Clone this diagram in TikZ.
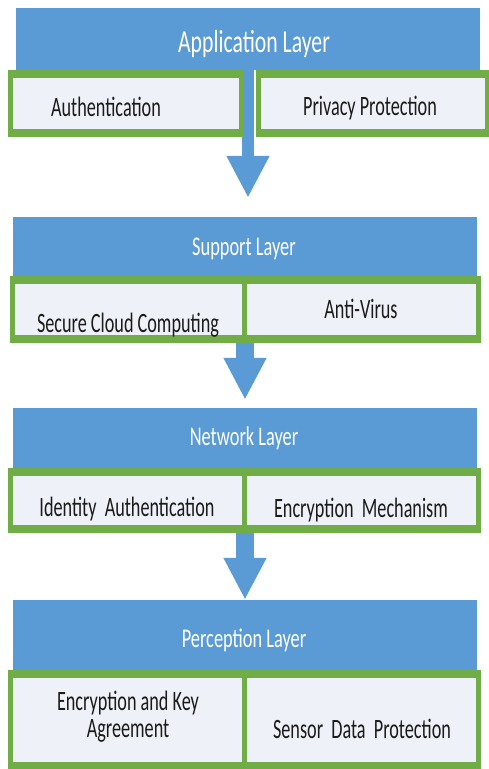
\documentclass[tikz,border=0pt]{standalone}
\usepackage{fontspec}
\setmainfont{Carlito}
\newfontfamily\layerfont{Carlito}[FakeStretch=0.68]
\newfontfamily\itemfont{Carlito}[FakeStretch=0.65]
\usetikzlibrary{arrows.meta}
\definecolor{lblue}{HTML}{5B9BD5}
\definecolor{lgreen}{HTML}{70AD47}
\definecolor{lpale}{HTML}{EEF1F8}
\definecolor{ink}{HTML}{1A1A1A}
\tikzset{
  hdr/.style={fill=lblue,inner sep=0pt,minimum width=464pt},
  cell/.style={fill=lgreen,inner sep=0pt,
    path picture={\fill[lpale] ([shift={(5pt,-8pt)}]path picture bounding box.north west)
      rectangle ([shift={(-5pt,8pt)}]path picture bounding box.south east);}},
  htxt/.style={anchor=base,text=white,font=\layerfont\fontsize{27}{29}\selectfont},
  itxt/.style={anchor=base,text=ink,align=center,font=\itemfont\fontsize{28}{27}\selectfont},
  flow/.style={draw=lblue,line width=18pt,-{Triangle[length=42pt,width=40pt]}},
}
\begin{document}
\begin{tikzpicture}[x=1pt,y=-1pt]
\path[use as bounding box,fill=white] (0,0) rectangle (489,769);
% layer boxes
\node[hdr,minimum height=62pt] (app) at (248,39){};
\node[hdr,minimum height=60pt] (sup) at (245,247){};
\node[hdr,minimum height=60pt] (net) at (245,438){};
\node[hdr,minimum height=70pt] (per) at (245,635){};
% arrows between the layers
\draw[flow,line width=12pt,shorten >=19pt] (app.south) -- (app.south |- sup.north);
% items of each layer
\node[cell,minimum width=236pt,minimum height=67pt] (auth) at (126,103.5){};
\node[cell,minimum width=234pt,minimum height=67pt] (priv) at (373,103.5){};
\node[cell,minimum width=237pt,minimum height=67pt] (cloud) at (128.5,309.5){};
\node[cell,minimum width=239pt,minimum height=67pt] (virus) at (361.5,309.5){};
\node[cell,minimum width=239pt,minimum height=65pt] (ident) at (127.5,500.5){};
\node[cell,minimum width=239pt,minimum height=65pt] (encr) at (361.5,500.5){};
\node[cell,minimum width=239pt,minimum height=100pt] (keyag) at (127.5,720){};
\node[cell,minimum width=239pt,minimum height=100pt] (sensor) at (361.5,720){};
\draw[flow,shorten >=8pt] (cloud.south -| net.north) -- (net.north);
\draw[flow] (ident.south -| per.north) -- (per.north);
% texts
\node[htxt,font=\layerfont\fontsize{32}{34}\selectfont] (t-app) at (254,52) {Application Layer};
\node[htxt] (t-sup) at (244,255) {Support Layer};
\node[htxt] (t-net) at (244,445) {Network Layer};
\node[htxt] (t-per) at (244,647) {Perception Layer};
\node[itxt] (t-auth) at (106,116) {Authentication};
\node[itxt] (t-priv) at (370,115) {Privacy Protection};
\node[itxt] (t-cloud) at (128,332) {Secure Cloud Computing};
\node[itxt] (t-virus) at (361,318) {Anti-Virus};
\node[itxt] (t-ident) at (127,516) {Identity\ \ Authentication};
\node[itxt] (t-encr) at (361,517) {Encryption\ \ Mechanism};
\node[itxt] (t-keyag) at (128,737) {Encryption and Key\\Agreement};
\node[itxt] (t-sensor) at (362,738) {Sensor\ \ Data\ \ Protection};
\end{tikzpicture}
\end{document}
